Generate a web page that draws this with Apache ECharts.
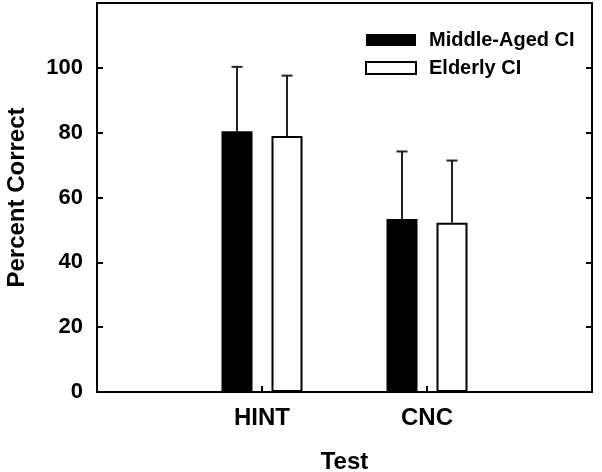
<!DOCTYPE html>
<html>
<head>
<meta charset="utf-8">
<script src="https://cdn.jsdelivr.net/npm/echarts@6/dist/echarts.min.js"></script>
<style>
html,body{margin:0;padding:0;background:#fff;}
#chart{width:602px;height:472px;}
</style>
</head>
<body>
<div id="chart"></div>
<script>
// ---- data ----
const categories = ['HINT', 'CNC'];
const seriesNames = ['Middle-Aged CI', 'Elderly CI'];
const middleAged = [80.4, 53.4];
const elderly = [79.0, 52.2];
const middleAgedErrTop = [100.3, 74.2];
const elderlyErrTop = [97.6, 71.4];
const yTicks = [0, 20, 40, 60, 80, 100, 120];

// ---- styling ----
const FONT = 'Liberation Sans, Arial, sans-serif';
const BAR_W = 31;
const BAR_GAP_PX = 19;
const OFF = (BAR_W + BAR_GAP_PX) / 2;

// category axis padded with empty slots on both sides
const axisCats = [''].concat(categories, ['']);
const pad = arr => [null].concat(arr, [null]);

function errData(vals, tops) {
  return vals.map((v, i) => [i + 1, v, tops[i]]);
}
function errRender(offset) {
  return function (params, api) {
    const base = api.coord([api.value(0), api.value(1)]);
    const top = api.coord([api.value(0), api.value(2)]);
    const x = base[0] + offset;
    const cap = 5.5;
    const style = { stroke: '#222', lineWidth: 2 };
    return {
      type: 'group',
      children: [
        { type: 'line', shape: { x1: x, y1: base[1], x2: x, y2: top[1] }, style: style },
        { type: 'line', shape: { x1: x - cap, y1: top[1], x2: x + cap, y2: top[1] }, style: style }
      ]
    };
  };
}

const chart = echarts.init(document.getElementById('chart'), null, { renderer: 'canvas' });
chart.setOption({
  animation: false,
  backgroundColor: '#fff',
  grid: { left: 97, right: 10, top: 3, bottom: 80, show: true, borderColor: '#000', borderWidth: 2, outerBoundsMode: 'none' },
  legend: {
    orient: 'vertical',
    left: 365, top: 30,
    padding: 0,
    itemWidth: 50, itemHeight: 12, itemGap: 8,
    icon: 'rect',
    data: seriesNames,
    textStyle: { fontFamily: FONT, fontWeight: 'bold', fontSize: 20, color: '#000', lineHeight: 20, padding: [0, 0, 0, 8] }
  },
  xAxis: {
    type: 'category',
    data: axisCats,
    boundaryGap: false,
    axisLine: { show: true, lineStyle: { color: '#000', width: 2 } },
    axisTick: { show: true, inside: true, length: 6, lineStyle: { color: '#000', width: 2 },
      interval: function (i) { return i > 0 && i <= categories.length; } },
    axisLabel: { fontFamily: FONT, fontWeight: 'bold', fontSize: 24, color: '#000', margin: 14,
      interval: 0 },
    name: 'Test',
    nameLocation: 'middle',
    nameGap: 58,
    nameTextStyle: { fontFamily: FONT, fontWeight: 'bold', fontSize: 24, color: '#000' },
    splitLine: { show: false }
  },
  yAxis: [{
    type: 'value',
    min: yTicks[0], max: yTicks[yTicks.length - 1], interval: 20,
    axisLine: { show: true, lineStyle: { color: '#000', width: 2 } },
    axisTick: { show: true, inside: true, length: 6, lineStyle: { color: '#000', width: 2 } },
    axisLabel: { fontFamily: FONT, fontWeight: 'bold', fontSize: 22, color: '#000', margin: 14,
      formatter: v => (v === 120 ? '' : String(v)) },
    splitLine: { show: false },
    name: 'Percent Correct',
    nameLocation: 'middle',
    nameGap: 68,
    nameTextStyle: { fontFamily: FONT, fontWeight: 'bold', fontSize: 24, color: '#000' }
  }, {
    type: 'value',
    position: 'right',
    min: yTicks[0], max: yTicks[yTicks.length - 1], interval: 20,
    axisLine: { show: true, lineStyle: { color: '#000', width: 2 } },
    axisTick: { show: true, inside: true, length: 6, lineStyle: { color: '#000', width: 2 } },
    axisLabel: { show: false },
    splitLine: { show: false }
  }],
  series: [
    {
      name: seriesNames[0], type: 'bar', data: pad(middleAged),
      barWidth: BAR_W, barGap: (BAR_GAP_PX / BAR_W * 100) + '%',
      itemStyle: { color: '#000', borderColor: '#000', borderWidth: 0 },
      z: 2
    },
    {
      name: seriesNames[1], type: 'bar', data: pad(elderly),
      barWidth: BAR_W, barGap: (BAR_GAP_PX / BAR_W * 100) + '%',
      itemStyle: { color: '#fff', borderColor: '#000', borderWidth: 2 },
      z: 2
    },
    {
      type: 'custom', name: 'err1', data: errData(middleAged, middleAgedErrTop),
      renderItem: errRender(-OFF), z: 3, silent: true
    },
    {
      type: 'custom', name: 'err2', data: errData(elderly, elderlyErrTop),
      renderItem: errRender(OFF), z: 3, silent: true
    }
  ]
});
</script>
</body>
</html>
